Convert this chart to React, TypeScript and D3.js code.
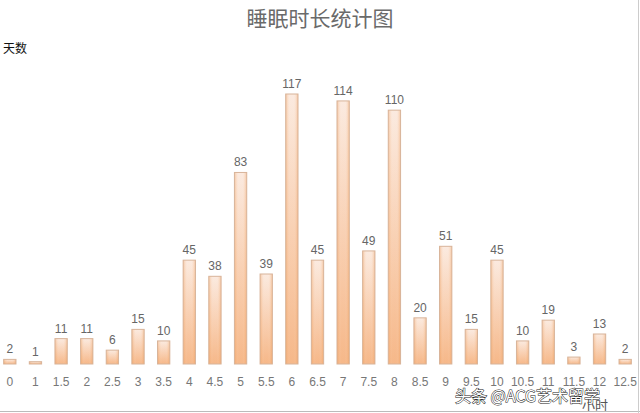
import React from 'react';
import * as d3 from 'd3';

const categories = ['0', '1', '1.5', '2', '2.5', '3', '3.5', '4', '4.5', '5', '5.5', '6', '6.5', '7', '7.5', '8', '8.5', '9', '9.5', '10', '10.5', '11', '11.5', '12', '12.5'];
const days = [2, 1, 11, 11, 6, 15, 10, 45, 38, 83, 39, 117, 45, 114, 49, 110, 20, 51, 15, 45, 10, 19, 3, 13, 2];

const W = 640;
const H = 413;
const margin = { left: -3, right: 2, top: 94, bottom: 49 };

export default function App() {
  const x = d3.scaleBand<string>()
    .domain(categories)
    .range([margin.left, W - margin.right])
    .paddingInner(0.52)
    .paddingOuter(0.26);
  const y = d3.scaleLinear()
    .domain([0, 117])
    .range([H - margin.bottom, margin.top]);
  const base = y(0);
  const font = '"Liberation Sans", Arial, sans-serif';

  return (
    <div style={{ position: 'fixed', left: 0, top: 0 }}>
      <svg width={W} height={H} style={{ display: 'block', background: '#fff' }}>
        <defs>
          <linearGradient id="barFill" x1="0" y1="0" x2="0" y2="1">
            <stop offset="0%" stopColor="#fbe8dc" />
            <stop offset="100%" stopColor="#f5b07c" />
          </linearGradient>
          <linearGradient id="barSide" x1="0" y1="0" x2="1" y2="0">
            <stop offset="0%" stopColor="#ee9a55" stopOpacity={0.45} />
            <stop offset="35%" stopColor="#ffffff" stopOpacity={0.1} />
            <stop offset="65%" stopColor="#ffffff" stopOpacity={0.1} />
            <stop offset="100%" stopColor="#ee9a55" stopOpacity={0.45} />
          </linearGradient>
        </defs>

        <text x={320} y={26} textAnchor="middle" fontSize={21} fill="#6a6a6a"
          fontFamily='"Noto Sans CJK SC", serif'>睡眠时长统计图</text>
        <text x={3} y={53} fontSize={12} fill="#111" fontFamily='"Noto Sans CJK SC", sans-serif'>天数</text>

        {categories.map((c, i) => {
          const bx = x(c)!;
          const bw = x.bandwidth();
          const top = y(days[i]);
          const h = Math.max(base - top, 2);
          return (
            <g key={c}>
              <rect x={bx} y={base - h} width={bw} height={h} fill="url(#barFill)" />
              <rect x={bx} y={base - h} width={bw} height={h} fill="url(#barSide)"
                stroke="#d8b49a" strokeWidth={1} />
              <text x={bx + bw / 2} y={base - h - 6} textAnchor="middle" fontSize={12}
                fill="#666" fontFamily={font}>{days[i]}</text>
              <text x={bx + bw / 2} y={base + 22} textAnchor="middle" fontSize={12}
                fill="#777" fontFamily={font}>{c}</text>
            </g>
          );
        })}

        <text x={582} y={410} fontSize={13} fill="#555" fontFamily='"Noto Sans CJK SC", sans-serif'>小时</text>
        <text x={455} y={402} fontSize={16} fill="#fff" stroke="#222" strokeWidth={1}
          paintOrder="stroke" fontFamily='"Noto Sans CJK SC", sans-serif'>头条 @ACG艺术留学</text>

        <line x1={0} x2={W} y1={411.5} y2={411.5} stroke="#bbb" />
        <line x1={638.5} x2={638.5} y1={0} y2={H} stroke="#ccc" />
      </svg>
    </div>
  );
}
